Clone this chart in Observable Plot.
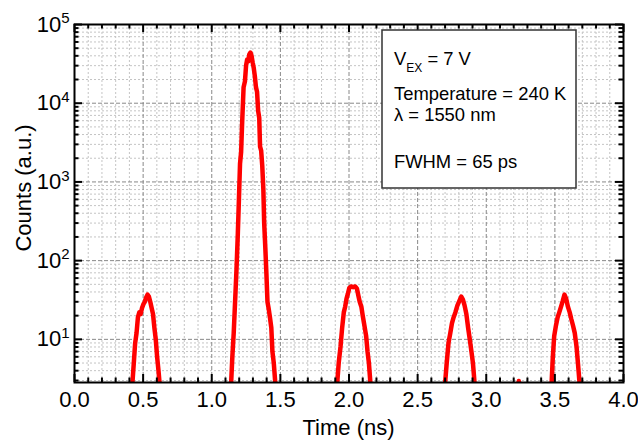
<!DOCTYPE html>
<html>
<head>
<meta charset="utf-8">
<script src="https://cdn.jsdelivr.net/npm/d3@7"></script>
<script src="https://cdn.jsdelivr.net/npm/@observablehq/plot@0.6"></script>
<style>
  html, body { margin: 0; padding: 0; background: #fff; }
  #chart { width: 638px; height: 440px; }
</style>
</head>
<body>
<div id="chart"></div>
<script>
// ---- data ----
const pulseA_t = [0.420,0.432,0.442,0.452,0.462,0.472,0.482,0.492,0.502,0.512,0.522,0.532,0.542,0.552,0.562,0.572,0.582,0.592,0.602,0.612,0.622];
const pulseA_c = [2.5,5,9,12,19,22,21,25,28,30,34,37,35,30,25,21,14,10,6,4,2.5];

const pulseB_t = [1.140,1.150,1.160,1.170,1.180,1.190,1.198,1.206,1.214,1.222,1.232,1.242,1.250,1.258,1.266,1.274,1.282,1.290,1.298,1.306,1.314,1.322,1.330,1.338,1.346,1.352,1.360,1.368,1.376,1.382,1.390,1.398,1.406,1.414,1.424,1.434,1.442,1.452,1.465];
const pulseB_c = [2.5,6,12,30,75,220,600,1700,2400,6000,16000,19000,30000,36000,34000,42000,44000,40000,33000,28000,22000,16000,14000,8000,6500,2800,2500,1600,800,300,150,70,30,25,19,14,7,5,2.5];

const pulseC_t = [1.912,1.925,1.938,1.950,1.962,1.972,1.982,1.992,2.002,2.015,2.030,2.045,2.058,2.068,2.078,2.090,2.100,2.112,2.125,2.135,2.145,2.158];
const pulseC_c = [2.5,5,8,14,22,26,33,38,45,47,46,47,44,36,30,26,20,15,11,7,5,2.5];

const pulseD_t = [2.698,2.712,2.725,2.738,2.750,2.762,2.775,2.790,2.805,2.818,2.830,2.842,2.855,2.868,2.880,2.892,2.903,2.917];
const pulseD_c = [2.5,5,9,12,16,19,22,27,31,35,32,27,21,14,10,7,5,2.5];

const blip_t = [3.232,3.237,3.242];
const blip_c = [2.6,2.95,2.6];

const pulseE_t = [3.475,3.485,3.495,3.508,3.520,3.532,3.545,3.558,3.570,3.582,3.595,3.608,3.620,3.632,3.645,3.658,3.668,3.682];
const pulseE_c = [2.5,6,11,15,19,22,26,31,37,33,26,22,18,15,12,8,5,2.5];

const xTicks = [0,0.5,1.0,1.5,2.0,2.5,3.0,3.5,4.0];
const yTicks = [10,100,1000,10000,100000];
const xDomain = [0,4];
const yDomain = [2.83,100000];

const xLabel = "Time (ns)";
const yLabel = "Counts (a.u.)";
const boxLines = ["Temperature = 240 K", "λ = 1550 nm", "FWHM = 65 ps"];

// ---- derived tables ----
const pulses = [[pulseA_t,pulseA_c],[pulseB_t,pulseB_c],[pulseC_t,pulseC_c],[pulseD_t,pulseD_c],[blip_t,blip_c],[pulseE_t,pulseE_c]];
const data = pulses.flatMap(([ts,cs],p) => ts.map((t,i) => ({t, c: cs[i], p})));

const minorX = d3.range(0, 41).map(i => i/10).filter(v => !xTicks.some(m => Math.abs(m-v) < 1e-9));
const minorY = [];
for (let e = 0; e < 5; e++) for (let k = 2; k <= 9; k++) { const v = k*10**e; if (v >= yDomain[0] && v < yDomain[1]) minorY.push(v); }

const W = 638, H = 440, mL = 74, mR = 15, mT = 24, mB = 58;
const PH = H - mT - mB, PW = W - mL - mR;
const FONT = "'Liberation Sans', Arial, sans-serif";

const chart = Plot.plot({
  width: W, height: H,
  marginLeft: mL, marginRight: mR, marginTop: mT, marginBottom: mB,
  style: {fontFamily: FONT, color: "#000", background: "#fff"},
  x: {domain: xDomain, axis: null},
  y: {type: "log", domain: yDomain, axis: null},
  marks: [
    Plot.ruleX(minorX, {stroke: "#c4c4c4", strokeDasharray: "2,2", strokeWidth: 1}),
    Plot.ruleY(minorY, {stroke: "#c4c4c4", strokeDasharray: "2,2", strokeWidth: 1}),
    Plot.ruleX(xTicks, {stroke: "#888", strokeDasharray: "4,2", strokeWidth: 1}),
    Plot.ruleY(yTicks, {stroke: "#888", strokeDasharray: "4,2", strokeWidth: 1}),
    Plot.line(data, {x: "t", y: "c", z: "p", stroke: "#ff0000", strokeWidth: 4.5, strokeLinejoin: "round", clip: true}),
    // inward ticks on all four sides
    Plot.tickX(xTicks, {x: d => d, insetTop: PH - 8, stroke: "#000", strokeWidth: 2}),
    Plot.tickX(minorX, {x: d => d, insetTop: PH - 4.5, stroke: "#000", strokeWidth: 2}),
    Plot.tickX(xTicks, {x: d => d, insetBottom: PH - 8, stroke: "#000", strokeWidth: 2}),
    Plot.tickX(minorX, {x: d => d, insetBottom: PH - 4.5, stroke: "#000", strokeWidth: 2}),
    Plot.tickY(yTicks, {y: d => d, insetRight: PW - 8, stroke: "#000", strokeWidth: 2}),
    Plot.tickY(minorY, {y: d => d, insetRight: PW - 4.5, stroke: "#000", strokeWidth: 2}),
    Plot.tickY(yTicks, {y: d => d, insetLeft: PW - 8, stroke: "#000", strokeWidth: 2}),
    Plot.tickY(minorY, {y: d => d, insetLeft: PW - 4.5, stroke: "#000", strokeWidth: 2}),
    Plot.frame({stroke: "#000", strokeWidth: 2}),
    Plot.axisX({ticks: xTicks, tickSize: 0, tickPadding: 9, fontSize: 22, tickFormat: d3.format(".1f"), label: null}),
    Plot.axisY({ticks: yTicks, tickSize: 0, tickPadding: 5, fontSize: 22, tickFormat: d => "10^" + Math.round(Math.log10(d)), label: null})
  ]
});

document.getElementById("chart").appendChild(chart);
const svg = d3.select(chart);

// superscript exponents on the log-axis labels
svg.selectAll("g[aria-label='y-axis tick label'] text").each(function() {
  const s = d3.select(this).text();
  const parts = s.split("^");
  if (parts.length !== 2) return;
  const t = d3.select(this);
  t.text(null);
  t.append("tspan").text(parts[0]);
  t.append("tspan").attr("dy", "-0.55em").attr("font-size", "15px").text(parts[1]);
});

// axis titles
const titles = svg.append("g").attr("font-family", FONT).attr("fill", "#000").attr("font-size", 22).attr("text-anchor", "middle");
titles.append("text").attr("x", mL + PW / 2).attr("y", 435).text(xLabel);
titles.append("text").attr("transform", "translate(31,188) rotate(-90)").text(yLabel);

// annotation box
const box = svg.append("g").attr("font-family", FONT).attr("fill", "#000").attr("text-anchor", "start");
box.append("rect").attr("x", 382).attr("y", 30).attr("width", 194).attr("height", 158)
  .attr("fill", "#fff").attr("stroke", "#333").attr("stroke-width", 1.5);
const fs = 18.4;
const v = box.append("text").attr("x", 394).attr("y", 65).attr("font-size", fs);
v.append("tspan").text("V");
v.append("tspan").attr("font-size", 12).attr("dy", 7).text("EX");
v.append("tspan").attr("dy", -7).text(" = 7 V");
box.append("text").attr("x", 394).attr("y", 100).attr("font-size", fs).text(boxLines[0]);
box.append("text").attr("x", 394).attr("y", 121).attr("font-size", fs).text(boxLines[1]);
box.append("text").attr("x", 394).attr("y", 168).attr("font-size", fs).text(boxLines[2]);
</script>
</body>
</html>
